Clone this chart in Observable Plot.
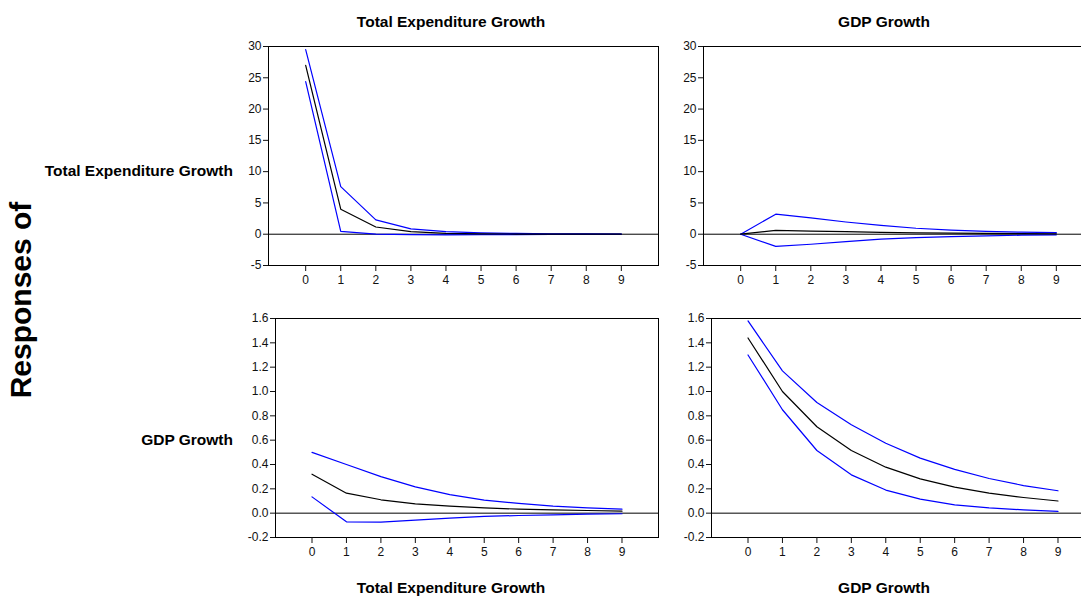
<!DOCTYPE html>
<html>
<head>
<meta charset="utf-8">
<script src="https://cdn.jsdelivr.net/npm/d3@7"></script>
<script src="https://cdn.jsdelivr.net/npm/@observablehq/plot@0.6"></script>
<style>
  html, body { margin: 0; padding: 0; background: #fff; overflow: hidden; width: 1081px; height: 599px; }
  #root { position: relative; width: 1081px; height: 599px; overflow: hidden; font-family: "Liberation Sans", Arial, sans-serif; }
  .panel { position: absolute; }
  .panel svg { max-width: none !important; }
  .lbl { position: absolute; font-weight: bold; color: #000; white-space: nowrap; line-height: 1; }
</style>
</head>
<body>
<div id="root"></div>
<script>
// Impulse-response steps
const steps = [0, 1, 2, 3, 4, 5, 6, 7, 8, 9];

// Response of Total Expenditure Growth to Total Expenditure Growth
const teTeMean  = [27.0, 4.0, 1.15, 0.40, 0.15, 0.06, 0.03, 0.01, 0.00, 0.00];
const teTeUpper = [29.5, 7.6, 2.30, 0.85, 0.40, 0.22, 0.12, 0.07, 0.04, 0.03];
const teTeLower = [24.4, 0.45, 0.00, -0.08, -0.10, -0.08, -0.05, -0.03, -0.02, -0.01];

// Response of Total Expenditure Growth to GDP Growth
const teGdpMean  = [0, 0.60, 0.50, 0.40, 0.30, 0.22, 0.16, 0.12, 0.09, 0.07];
const teGdpUpper = [0, 3.20, 2.60, 1.95, 1.40, 0.95, 0.65, 0.45, 0.32, 0.25];
const teGdpLower = [0, -1.95, -1.60, -1.20, -0.80, -0.55, -0.38, -0.25, -0.16, -0.10];

// Response of GDP Growth to Total Expenditure Growth
const gdpTeMean  = [0.32, 0.164, 0.110, 0.077, 0.058, 0.044, 0.033, 0.027, 0.022, 0.016];
const gdpTeUpper = [0.50, 0.400, 0.300, 0.216, 0.153, 0.107, 0.080, 0.058, 0.044, 0.033];
const gdpTeLower = [0.134, -0.071, -0.074, -0.058, -0.041, -0.027, -0.019, -0.014, -0.008, -0.005];

// Response of GDP Growth to GDP Growth
const gdpGdpMean  = [1.44, 1.00, 0.71, 0.515, 0.378, 0.282, 0.214, 0.164, 0.129, 0.100];
const gdpGdpUpper = [1.58, 1.17, 0.91, 0.726, 0.575, 0.452, 0.360, 0.285, 0.227, 0.184];
const gdpGdpLower = [1.30, 0.85, 0.515, 0.315, 0.190, 0.115, 0.068, 0.044, 0.027, 0.014];

// Tick labels
const topYTicks = [-5, 0, 5, 10, 15, 20, 25, 30];
const bottomYTicks = [-0.2, 0.0, 0.2, 0.4, 0.6, 0.8, 1.0, 1.2, 1.4, 1.6];

// Labels
const shockNames = ["Total Expenditure Growth", "GDP Growth"];
const responseNames = ["Total Expenditure Growth", "GDP Growth"];
const sideTitle = "Responses of";

const labelFont = "'Liberation Sans', Arial, sans-serif";
const titleSize = "15.5px";

const root = document.getElementById("root");

function rows(arr) { return steps.map((s, i) => ({step: s, value: arr[i]})); }

function panel(cfg) {
  const p = Plot.plot({
    width: cfg.width,
    height: cfg.height,
    marginLeft: cfg.mL, marginRight: cfg.mR, marginTop: cfg.mT, marginBottom: cfg.mB,
    style: { background: "transparent", fontFamily: labelFont, fontSize: "12px", color: "#111", overflow: "visible", maxWidth: "none" },
    x: { domain: [-1.06, 10.06] },
    y: { domain: cfg.yDomain },
    marks: [
      Plot.ruleY([0], { stroke: "#000", strokeWidth: 1 }),
      Plot.line(rows(cfg.upper), { x: "step", y: "value", stroke: "#0000ff", strokeWidth: 1.2 }),
      Plot.line(rows(cfg.lower), { x: "step", y: "value", stroke: "#0000ff", strokeWidth: 1.2 }),
      Plot.line(rows(cfg.mean), { x: "step", y: "value", stroke: "#000", strokeWidth: 1.2 }),
      Plot.frame({ stroke: "#000", strokeWidth: 1 }),
      Plot.axisX({ ticks: steps, tickSize: 6, tickPadding: 4, fontSize: 12, label: null, tickFormat: d => String(d) }),
      Plot.axisY({ ticks: cfg.yTicks, tickSize: 5, tickPadding: 2, fontSize: 12, label: null, tickFormat: cfg.fmt })
    ]
  });
  p.style.maxWidth = "none";
  const d = document.createElement("div");
  d.className = "panel";
  d.style.left = cfg.left + "px";
  d.style.top = cfg.top + "px";
  d.style.width = cfg.width + "px";
  d.style.height = cfg.height + "px";
  d.appendChild(p);
  root.appendChild(d);
}

const topFmt = d => String(d);
const botFmt = d => d.toFixed(1);

panel({ left: 200, top: 36, width: 460, height: 256, mL: 68, mR: 2, mT: 10, mB: 27,
  yDomain: [-5, 30], yTicks: topYTicks, fmt: topFmt, mean: teTeMean, upper: teTeUpper, lower: teTeLower });
panel({ left: 635, top: 36, width: 460, height: 256, mL: 68, mR: 2, mT: 10, mB: 27,
  yDomain: [-5, 30], yTicks: topYTicks, fmt: topFmt, mean: teGdpMean, upper: teGdpUpper, lower: teGdpLower });
panel({ left: 205, top: 308, width: 455, height: 256, mL: 70, mR: 2, mT: 10, mB: 27,
  yDomain: [-0.2, 1.6], yTicks: bottomYTicks, fmt: botFmt, mean: gdpTeMean, upper: gdpTeUpper, lower: gdpTeLower });
panel({ left: 641, top: 308, width: 455, height: 256, mL: 70, mR: 2, mT: 10, mB: 27,
  yDomain: [-0.2, 1.6], yTicks: bottomYTicks, fmt: botFmt, mean: gdpGdpMean, upper: gdpGdpUpper, lower: gdpGdpLower });

function label(text, x, y, anchor) {
  const d = document.createElement("div");
  d.className = "lbl";
  d.textContent = text;
  d.style.fontFamily = labelFont;
  d.style.fontSize = titleSize;
  d.style.top = y + "px";
  if (anchor === "middle") { d.style.left = x + "px"; d.style.transform = "translate(-50%, -50%)"; }
  else if (anchor === "end") { d.style.right = (1081 - x) + "px"; d.style.transform = "translateY(-50%)"; }
  else { d.style.left = x + "px"; d.style.transform = "translateY(-50%)"; }
  root.appendChild(d);
  return d;
}

// column titles (top and bottom)
label(shockNames[0], 451, 22, "middle");
label(shockNames[1], 884, 22, "middle");
label(shockNames[0], 451, 588, "middle");
label(shockNames[1], 884, 588, "middle");
// row titles
label(responseNames[0], 233, 171, "end");
label(responseNames[1], 233, 440, "end");

// rotated side title
const s = document.createElement("div");
s.className = "lbl";
s.textContent = sideTitle;
s.style.fontFamily = "'Liberation Sans', Arial, sans-serif";
s.style.fontSize = "30px";
s.style.left = "21px";
s.style.top = "300px";
s.style.transform = "translate(-50%, -50%) rotate(-90deg)";
root.appendChild(s);
</script>
</body>
</html>
